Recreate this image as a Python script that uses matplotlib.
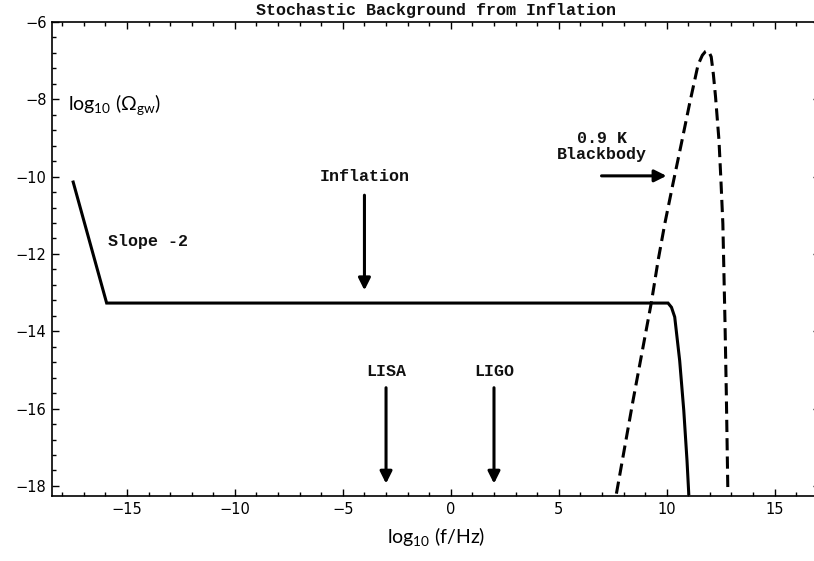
"""
Gravitational-wave background from inflation: log10(Omega_gw) versus
log10(f/Hz), with the 0.9 K blackbody spectrum and the LISA / LIGO bands.
"""

import matplotlib
matplotlib.use("Agg")
import matplotlib.pyplot as plt
from matplotlib.ticker import MultipleLocator

MONO = ["Liberation Mono", "DejaVu Sans Mono"]
SANS = ["Lato", "DejaVu Sans"]

plt.rcParams["mathtext.fontset"] = "custom"
plt.rcParams["mathtext.rm"] = "Lato"
plt.rcParams["mathtext.it"] = "Lato:italic"

# inflationary spectrum: slope -2 at low f, flat plateau, cutoff near 10^11 Hz
infl_logf = [-17.49, -15.94, 10.06, 10.22, 10.37, 10.6, 10.79, 10.94, 11.02]
infl_logomega = [-10.14, -13.27, -13.27, -13.38, -13.63, -14.76, -16.05, -17.35, -18.2]

# 0.9 K blackbody
bb_logf = [7.67, 8.44, 9.29, 9.6, 9.91, 10.29, 10.68, 11.06, 11.45, 11.65, 11.8,
           11.88, 11.96, 12.06, 12.16, 12.26, 12.42, 12.51, 12.6, 12.64, 12.7, 12.76, 12.83]
bb_logomega = [-18.2, -15.79, -13.25, -12.17, -11.22, -10.18, -9.14, -8.11, -7.11, -6.86, -6.76,
               -6.74, -6.78, -6.9, -7.35, -7.93, -9.06, -10.09, -11.22, -12.25, -13.8, -15.6, -18.1]

# detector markers: label, log10 f
detectors = ["LISA", "LIGO"]
detector_logf = [-3.0, 2.0]

fig = plt.figure(figsize=(8.14, 5.61), dpi=100)
ax = fig.add_axes([0.0639, 0.1159, 0.9435, 0.8449])

ax.plot(infl_logf, infl_logomega, color="black", lw=2.2, solid_joinstyle="miter")
ax.plot(bb_logf, bb_logomega, color="black", lw=2.2, linestyle=(0, (4, 2)))

arrow = dict(arrowstyle="-|>,head_length=0.6,head_width=0.3", lw=2.2, color="black",
             mutation_scale=12, shrinkA=0, shrinkB=0)
txt = dict(family=MONO, fontsize=12, fontweight="bold", color="#111111")

# inflation arrow
ax.annotate("", xy=(-4.0, -12.94), xytext=(-4.0, -10.48), arrowprops=arrow)
ax.text(-4.0, -10.0, "Inflation", ha="center", va="center", **txt)

# detector arrows
for name, lf in zip(detectors, detector_logf):
    ax.annotate("", xy=(lf, -17.94), xytext=(lf, -15.46), arrowprops=arrow)
    ax.text(lf, -15.04, name, ha="center", va="center", **txt)

# blackbody label
ax.annotate("", xy=(9.99, -9.98), xytext=(6.98, -9.98), arrowprops=arrow)
ax.text(7.0, -9.22, "0.9 K\nBlackbody", ha="center", va="center", linespacing=1.05, **txt)

ax.text(-15.88, -11.67, "Slope -2", ha="left", va="center", **txt)

ax.text(-17.73, -8.28, r"log$_{10}$ (Ω$_{\rm gw}$)", ha="left", va="baseline",
        family=SANS, fontsize=14)
ax.set_xlabel(r"log$_{10}$ (f/Hz)", family=SANS, fontsize=14, labelpad=6)
ax.set_title("Stochastic Background from Inflation", family=MONO, fontsize=12,
             fontweight="bold", color="#111111", pad=5)

ax.set_xlim(-18.47, 17.1)
ax.set_ylim(-18.26, -6)
ax.xaxis.set_major_locator(MultipleLocator(5))
ax.xaxis.set_minor_locator(MultipleLocator(1))
ax.yaxis.set_major_locator(MultipleLocator(2))
ax.yaxis.set_minor_locator(MultipleLocator(0.4))
ax.tick_params(which="both", direction="in", top=True, right=True, width=1.0,
               labelsize=10.5, pad=4)
ax.tick_params(which="major", length=5)
ax.tick_params(which="minor", length=3)
for s in ax.spines.values():
    s.set_linewidth(1.2)

fig.savefig("out.png", dpi=100, facecolor="white")
